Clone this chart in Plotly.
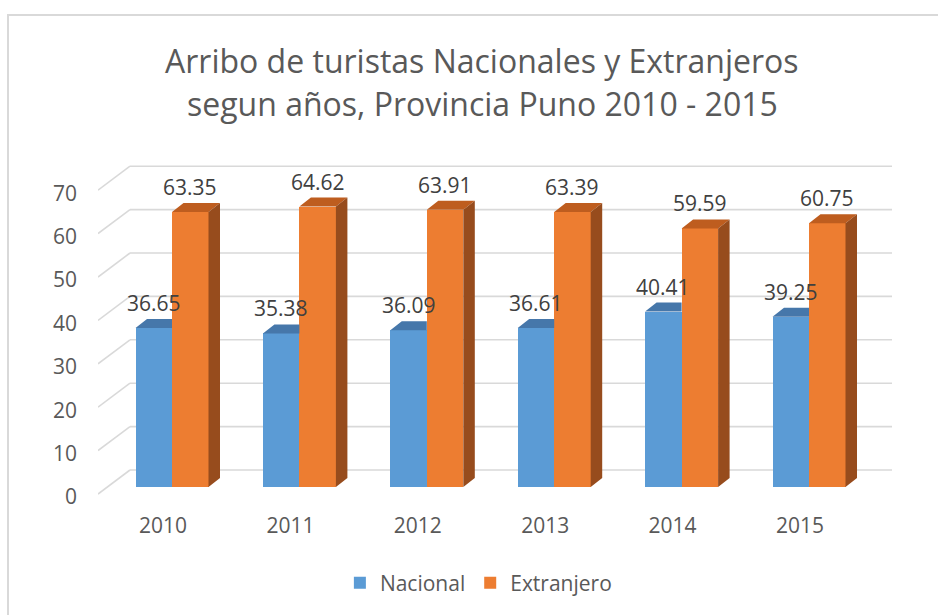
import plotly.graph_objects as go

# ---------------- data ----------------
years = ["2010", "2011", "2012", "2013", "2014", "2015"]
nacional = [36.65, 35.38, 36.09, 36.61, 40.41, 39.25]
extranjero = [63.35, 64.62, 63.91, 63.39, 59.59, 60.75]
y_ticks = [0, 10, 20, 30, 40, 50, 60, 70]
title_lines = ["Arribo de turistas Nacionales y Extranjeros",
               "segun años, Provincia Puno 2010 - 2015"]

# ---------------- geometry (pixel layout) ----------------
W, H = 938, 615
PX_LEFT, PX_RIGHT = 98, 892
PX_TOP, PX_BOTTOM = 150, 505
X0_PX = 172.0      # px of category 0 centre
X_UNIT = 127.4     # px per category
Y0_PX = 487.0      # px of value 0 (bar front base)
Y_UNIT = 4.34      # px per value unit

x_range = [(PX_LEFT - X0_PX) / X_UNIT, (PX_RIGHT - X0_PX) / X_UNIT]
y_range = [(Y0_PX - PX_BOTTOM) / Y_UNIT, (Y0_PX - PX_TOP) / Y_UNIT]

BAR_W = 36.5 / X_UNIT
DX = 11.5 / X_UNIT
DY = 9.0 / Y_UNIT
WALL_DX = 32.0 / X_UNIT
WALL_DY = 24.0 / Y_UNIT
WALL_FRONT = -7.0 / Y_UNIT
YLABEL_SHIFT = -10.0 / Y_UNIT
XLABEL_SHIFT = -9.0 / X_UNIT


def px_to_paper_x(px):
    return (px - PX_LEFT) / (PX_RIGHT - PX_LEFT)


def px_to_paper_y(py):
    return (PX_BOTTOM - py) / (PX_BOTTOM - PX_TOP)


BLUE, BLUE_TOP = "#5B9BD5", "#4677AA"
ORANGE, ORANGE_TOP, ORANGE_SIDE = "#ED7D31", "#BE5D1F", "#974C1D"
GRID = "#D9D9D9"
TXT = "#595959"
FONT = "Open Sans"

xs = list(range(len(years)))
xb = [i - BAR_W / 2 for i in xs]
xo = [i + BAR_W / 2 for i in xs]

fig = go.Figure()
fig.add_trace(go.Bar(x=xb, y=nacional, width=BAR_W, name="Nacional",
                     marker=dict(color=BLUE, line=dict(width=0)), hoverinfo="skip"))
fig.add_trace(go.Bar(x=xo, y=extranjero, width=BAR_W, name="Extranjero",
                     marker=dict(color=ORANGE, line=dict(width=0)), hoverinfo="skip"))


def poly_trace(polys, color):
    px, py = [], []
    for p in polys:
        for (a, b) in p:
            px.append(a)
            py.append(b)
        px.append(p[0][0]); py.append(p[0][1])
        px.append(None); py.append(None)
    return go.Scatter(x=px, y=py, mode="lines", fill="toself", fillcolor=color,
                      line=dict(width=0, color=color), showlegend=False, hoverinfo="skip")


blue_tops = []
for x, v in zip(xb, nacional):
    l, r = x - BAR_W / 2, x + BAR_W / 2
    blue_tops.append([(l, v), (r, v), (r, v + DY), (l + DX, v + DY)])
orange_tops, orange_sides = [], []
for x, v in zip(xo, extranjero):
    l, r = x - BAR_W / 2, x + BAR_W / 2
    orange_tops.append([(l, v), (r, v), (r + DX, v + DY), (l + DX, v + DY)])
    orange_sides.append([(r, 0), (r, v), (r + DX, v + DY), (r + DX, DY)])

fig.add_trace(poly_trace(blue_tops, BLUE_TOP))
fig.add_trace(poly_trace(orange_tops, ORANGE_TOP))
fig.add_trace(poly_trace(orange_sides, ORANGE_SIDE))

# gridlines on side wall and back wall
shapes = []
for v in y_ticks:
    fx, fy = x_range[0], v + WALL_FRONT
    bx, by = x_range[0] + WALL_DX, v + WALL_FRONT + WALL_DY
    shapes.append(dict(type="line", xref="x", yref="y", x0=fx, y0=fy, x1=bx, y1=by,
                       line=dict(color=GRID, width=1.6), layer="below"))
    shapes.append(dict(type="line", xref="x", yref="y", x0=bx, y0=by, x1=x_range[1], y1=by,
                       line=dict(color=GRID, width=1.6), layer="below"))
# chart border
shapes.append(dict(type="rect", xref="paper", yref="paper",
                   x0=px_to_paper_x(8), x1=px_to_paper_x(W + 10),
                   y0=px_to_paper_y(H + 10), y1=px_to_paper_y(15),
                   line=dict(color=GRID, width=2), fillcolor="rgba(0,0,0,0)", layer="below"))

annotations = []
for x, v in list(zip(xb, nacional)) + list(zip(xo, extranjero)):
    annotations.append(dict(x=x, y=v, xref="x", yref="y", text=f"{v:.2f}", showarrow=False,
                            yanchor="middle", yshift=25,
                            font=dict(family=FONT, size=21, color="#404040")))
for line, cy in zip(title_lines, [61, 104]):
    annotations.append(dict(x=px_to_paper_x(482), y=px_to_paper_y(cy), xref="paper", yref="paper",
                            text=line, showarrow=False, xanchor="center", yanchor="middle",
                            font=dict(family=FONT, size=32, color=TXT)))

fig.update_layout(
    width=W, height=H,
    margin=dict(l=PX_LEFT, r=W - PX_RIGHT, t=PX_TOP, b=H - PX_BOTTOM, pad=0),
    paper_bgcolor="white", plot_bgcolor="white",
    barmode="overlay", bargap=0,
    shapes=shapes, annotations=annotations,
    font=dict(family=FONT, size=21, color=TXT),
    showlegend=True,
    legend=dict(orientation="h", xref="container", yref="container",
                x=0.51, y=1 - 583 / H, xanchor="center", yanchor="middle",
                font=dict(family=FONT, size=21, color=TXT), traceorder="normal"),
    xaxis=dict(range=x_range, showgrid=False, zeroline=False, showline=False,
               tickvals=[i + XLABEL_SHIFT for i in xs], ticktext=years,
               ticks="", ticklabelstandoff=6,
               tickfont=dict(family=FONT, size=21, color=TXT), fixedrange=True),
    yaxis=dict(range=y_range, showgrid=False, zeroline=False, showline=False,
               tickvals=[v + YLABEL_SHIFT for v in y_ticks], ticktext=[str(v) for v in y_ticks],
               ticks="", ticklabelstandoff=20,
               tickfont=dict(family=FONT, size=21, color=TXT), fixedrange=True),
)

fig.write_html("out.html", config={"displayModeBar": False},
               post_script="document.body.style.margin='0';document.body.style.overflow='hidden';")
